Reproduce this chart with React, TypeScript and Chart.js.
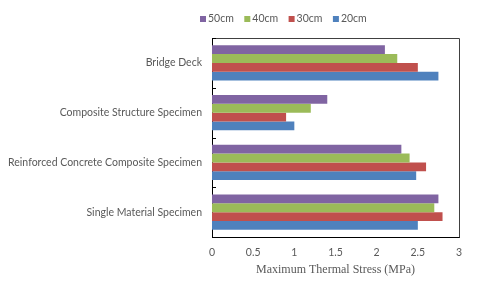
import React, { useEffect, useRef } from "react";
import { Chart, registerables } from "chart.js";

Chart.register(...registerables);

const categories = [
  "Bridge Deck",
  "Composite Structure Specimen",
  "Reinforced Concrete Composite Specimen",
  "Single Material Specimen",
];
const seriesNames = ["50cm", "40cm", "30cm", "20cm"];
const values50 = [2.1, 1.4, 2.3, 2.75];
const values40 = [2.25, 1.2, 2.4, 2.7];
const values30 = [2.5, 0.9, 2.6, 2.8];
const values20 = [2.75, 1.0, 2.48, 2.5];
const seriesColors = ["#8064A2", "#9BBB59", "#C0504D", "#4F81BD"];
const xMin = 0;
const xMax = 3;
const xStep = 0.5;
const xTitle = "Maximum Thermal Stress (MPa)";

const TEXT = "#595959";
const SANS = "Lato, 'Open Sans', sans-serif";

const legendPlugin = {
  id: "customLegend",
  afterDraw(chart: any) {
    const ctx = chart.ctx;
    ctx.save();
    ctx.font = `10.5px ${SANS}`;
    ctx.textBaseline = "middle";
    ctx.textAlign = "left";
    let x = 200;
    const y = 19;
    chart.data.datasets.forEach((ds: any) => {
      ctx.fillStyle = ds.backgroundColor;
      ctx.fillRect(x, y - 3, 6, 6);
      ctx.fillStyle = TEXT;
      ctx.fillText(ds.label, x + 8, y);
      x += 44.3;
    });
    ctx.restore();
  },
};

const framePlugin = {
  id: "frame",
  afterDraw(chart: any) {
    const { ctx, chartArea } = chart;
    const yScale = chart.scales.y;
    ctx.save();
    ctx.strokeStyle = "#404040";
    ctx.lineWidth = 1;
    ctx.beginPath();
    ctx.moveTo(Math.round(chartArea.left) + 0.5, Math.round(chartArea.top) + 0.5);
    ctx.lineTo(Math.round(chartArea.right) + 0.5, Math.round(chartArea.top) + 0.5);
    ctx.lineTo(Math.round(chartArea.right) + 0.5, Math.round(chartArea.bottom) + 0.5);
    ctx.stroke();
    // inward tick marks at category boundaries
    ctx.strokeStyle = "#000";
    const n = yScale.ticks.length;
    const half = (yScale.getPixelForValue(1) - yScale.getPixelForValue(0)) / 2;
    ctx.beginPath();
    for (let i = 0; i <= n; i++) {
      const py = Math.round(yScale.getPixelForValue(i) - half) + 0.5;
      ctx.moveTo(chartArea.left, py);
      ctx.lineTo(chartArea.left + 4, py);
    }
    ctx.stroke();
    ctx.restore();
  },
};

export default function App() {
  const ref = useRef<HTMLCanvasElement | null>(null);

  useEffect(() => {
    if (!ref.current) return;
    const allValues = [values50, values40, values30, values20];
    const chart = new Chart(ref.current, {
      type: "bar",
      data: {
        labels: categories,
        datasets: seriesNames.map((name, i) => ({
          label: name,
          data: allValues[i],
          backgroundColor: seriesColors[i],
          borderWidth: 0,
          categoryPercentage: 0.71,
          barPercentage: 1.0,
        })),
      },
      options: {
        indexAxis: "y",
        animation: false,
        responsive: false,
        layout: { padding: { top: 38, right: 21, bottom: 0, left: 0 } },
        plugins: {
          legend: { display: false },
          tooltip: { enabled: false },
        },
        scales: {
          y: {
            type: "category",
            grid: { display: false, drawTicks: false },
            border: { display: true, color: "#000" },
            ticks: {
              font: { family: SANS, size: 10.5 },
              color: TEXT,
              padding: 10,
            },
            afterFit(scale: any) {
              scale.width = 212;
            },
          },
          x: {
            type: "linear",
            min: xMin,
            max: xMax,
            grid: { display: false, drawTicks: false },
            border: { display: true, color: "#000" },
            ticks: {
              stepSize: xStep,
              font: { family: SANS, size: 10.5 },
              color: TEXT,
              padding: 9,
              callback: (v: any) => String(Number(v)),
            },
            title: {
              display: true,
              text: xTitle,
              font: { family: "'Liberation Serif', 'Times New Roman', serif", size: 12 },
              color: TEXT,
              padding: { top: 4, bottom: 10 },
            },
            afterFit(scale: any) {
              scale.height = 50;
            },
          },
        },
      },
      plugins: [legendPlugin, framePlugin],
    });
    return () => chart.destroy();
  }, []);

  return (
    <div style={{ position: "absolute", left: 0, top: 0, width: 480, height: 287, background: "#fff" }}>
      <canvas ref={ref} width={480} height={287} style={{ display: "block" }} />
    </div>
  );
}
